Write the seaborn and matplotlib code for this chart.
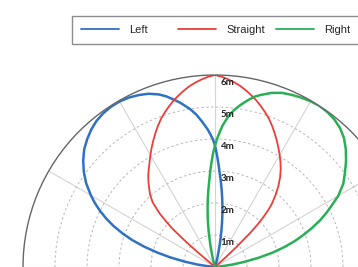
import numpy as np
import pandas as pd
import matplotlib
matplotlib.use("Agg")
import matplotlib.pyplot as plt
import seaborn as sns

# lobe outlines: angle in degrees (0 = right), radius in metres
left_deg = [72, 74, 76, 78, 79, 80, 81, 82, 83, 84, 85, 86, 87, 88, 89, 90, 91, 92, 93, 95,
            97, 99, 102, 104, 106, 108, 111, 114, 117, 120, 123, 126, 129, 132, 135, 138,
            141, 144, 147, 150, 152, 154, 156, 158, 160, 162, 164, 166, 168, 170, 172, 173, 174]
left_r = [0, 0.15, 0.35, 0.7, 0.9, 1.15, 1.4, 1.65, 1.9, 2.15, 2.4, 2.65, 2.9, 3.2, 3.5, 3.8, 4.0, 4.15, 4.3, 4.55,
          4.8, 5.0, 5.25, 5.4, 5.55, 5.67, 5.8, 5.88, 5.94, 5.97, 5.97, 5.94, 5.88, 5.78, 5.65, 5.5,
          5.3, 5.07, 4.8, 4.48, 4.25, 4.0, 3.72, 3.42, 3.08, 2.72, 2.3, 1.85, 1.4, 0.95, 0.55, 0.3, 0]

straight_deg = [42, 42.5, 43, 44, 45, 46, 47, 48, 50, 52, 54, 56, 58, 60, 62, 64, 66, 68, 70,
                72, 74, 76, 78, 80, 82, 84, 86, 88, 90, 92, 94, 96, 98, 100, 102, 104, 106,
                108, 110, 112, 114, 116, 118, 120, 122, 124, 126, 128, 130, 132, 134, 136,
                137, 138, 139, 139.5, 140]
straight_r = [0, 0.5, 0.9, 1.5, 1.9, 2.2, 2.45, 2.65, 2.95, 3.22, 3.46, 3.67, 3.86, 4.04, 4.22, 4.4, 4.58, 4.76, 4.93,
              5.08, 5.22, 5.36, 5.48, 5.6, 5.71, 5.8, 5.88, 5.95, 6.0, 5.95, 5.88, 5.8, 5.71, 5.6, 5.48, 5.36, 5.22,
              5.08, 4.93, 4.76, 4.58, 4.4, 4.22, 4.04, 3.86, 3.7, 3.55, 3.38, 3.2, 3.03, 2.8, 2.4,
              2.1, 1.8, 1.2, 0.7, 0]

right_deg = [6, 7, 8, 10, 12, 14, 16, 18, 20, 22, 24, 26, 28, 30, 33, 36, 39, 42, 45, 48, 51,
             54, 57, 60, 63, 66, 69, 72, 75, 77, 79, 81, 83, 85, 87, 88, 89, 90, 91, 92, 93,
             94, 95, 96, 97, 98, 99, 100, 101, 102, 104, 106, 108]
right_r = [0, 0.3, 0.55, 0.95, 1.4, 1.85, 2.25, 2.62, 2.95, 3.28, 3.6, 3.88, 4.15, 4.45, 4.78, 5.02, 5.27, 5.5, 5.7, 5.84, 5.93,
           5.98, 6.0, 5.98, 5.94, 5.89, 5.83, 5.72, 5.57, 5.46, 5.3, 5.13, 4.95, 4.72, 4.42, 4.22, 4.02, 3.8, 3.55, 3.25, 2.95,
           2.65, 2.4, 2.15, 1.9, 1.65, 1.4, 1.15, 0.9, 0.7, 0.35, 0.15, 0]

series_names = ["Left", "Straight", "Right"]
series_colors = ["#2F72C4", "#EE3D38", "#2AAF57"]
series_widths = [1.8, 1.3, 1.8]
r_ticks = [1, 2, 3, 4, 5, 6]

sns.set_theme(style="white")
plt.rcParams["font.family"] = ["Liberation Sans", "DejaVu Sans"]

fig = plt.figure(figsize=(3.58, 2.67), dpi=100)
# pole sits at the bottom edge, the right part of the dial runs off the figure
ax = fig.add_axes([0.0643, -0.7191, 1.0726, 1.4382], projection="polar")

data = [(left_deg, left_r), (straight_deg, straight_r), (right_deg, right_r)]
for (deg, rad), name, col, lw in zip(data, series_names, series_colors, series_widths):
    df = pd.DataFrame({"theta": np.deg2rad(deg), "r": rad})
    sns.lineplot(data=df, x="theta", y="r", sort=False, estimator=None,
                 color=col, linewidth=lw, label=name, ax=ax)

handles, labels = ax.get_legend_handles_labels()
if ax.get_legend() is not None:
    ax.get_legend().remove()
ax.set_xlabel("")
ax.set_ylabel("")

ax.set_ylim(0, 6)
ax.set_thetagrids(np.arange(0, 360, 30), labels=[""] * 12)
ax.set_rgrids(r_ticks, labels=[""] * len(r_ticks))
ax.xaxis.grid(True, color="#D4D4D4", linewidth=0.8, linestyle="-")
ax.yaxis.grid(True, color="#B8B8B8", linewidth=0.7, linestyle=(0, (2.5, 2.5)))
ax.yaxis.get_gridlines()[-1].set_visible(False)
ax.spines["polar"].set_color("#666666")
ax.spines["polar"].set_linewidth(1.0)

for r in r_ticks:
    ax.annotate(f"{r}m", xy=(np.pi / 2, r), xytext=(4, -2), textcoords="offset points",
                ha="left", va="top", fontsize=7, fontweight="bold",
                family="Lato", color="#222222")

leg = fig.legend(handles, labels, loc="upper left", bbox_to_anchor=(72 / 358, 1 - 16 / 267),
                 ncol=3, frameon=True, fancybox=False, edgecolor="#8C8C8C", framealpha=1,
                 borderpad=0.8, handlelength=3.4, handletextpad=0.9, columnspacing=1.0,
                 borderaxespad=0, prop={"family": "Liberation Sans", "size": 8})
leg.get_frame().set_linewidth(1.0)
# equal-width legend entries
leg._legend_handle_box.mode = "equal"
for h in leg.get_lines():
    h.set_linewidth(1.3)

fig.savefig("out.png", dpi=100)
